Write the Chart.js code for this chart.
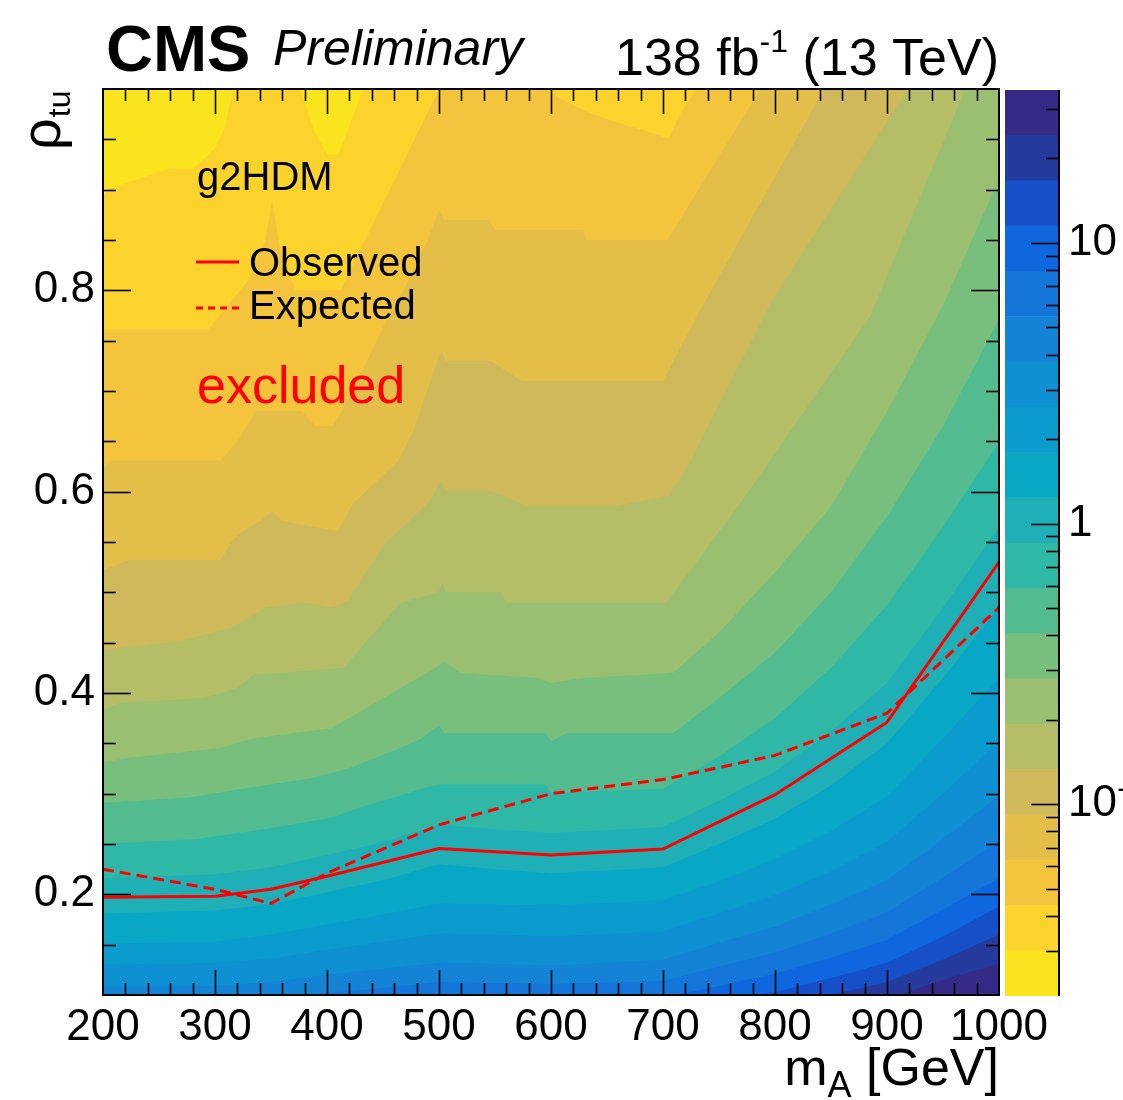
<!DOCTYPE html>
<html>
<head>
<meta charset="utf-8">
<script src="https://cdn.jsdelivr.net/npm/chart.js@4.4.0/dist/chart.umd.min.js"></script>
<style>
  body { margin: 0; background: #fff; }
  #wrap { position: relative; width: 1123px; height: 1100px; }
  canvas { position: absolute; left: 0; top: 0; }
</style>
</head>
<body>
<div id="wrap">
  <canvas id="plot" width="1123" height="1100"></canvas>
  <canvas id="zbar" width="1123" height="1100"></canvas>
</div>
<script>
// colour levels, lowest z (top left) to highest z (bottom right)
const levelColours = [
  '#f9e41e', '#fcd22c', '#f4c53c', '#e3bf4a', '#d0b95a', '#b5bd67', '#9abf70', '#78bf7e', '#52bb90', '#30b8a6',
  '#1eb0b6', '#09a7c6', '#0a9ccc', '#0f90d3', '#1483d6', '#1476d8', '#0f67df', '#1550c8', '#243a9c', '#352a87'
];
// z values at the edges of the 20 levels (colour bar)
const zEdges = [0.0207, 0.0300, 0.0435, 0.0632, 0.0916, 0.1328, 0.1926, 0.2793, 0.4052, 0.5875, 0.8521,
  1.236, 1.792, 2.598, 3.770, 5.466, 7.929, 11.50, 16.68, 24.18, 35.08];
const zTickValues = [0.1, 1, 10];

const xTickValues = [200, 300, 400, 500, 600, 700, 800, 900, 1000];
const yTickValues = [0.2, 0.4, 0.6, 0.8];

// level boundaries, [m_A, rho_tu]; edgeK separates level K-1 (above) from level K (below)
const edge1 = [[200,0.893],[205,0.901],[233,0.911],[260,0.921],[281,0.921],[300,0.941],[309,0.962],[316,1.0],[322,1.05],
  [368,1.05],[376,1.0],[388,0.96],[400,0.935],[410,0.935],[419,0.96],[432,1.0],[440,1.05],[1000,1.6]];
const edge2 = [[200,0.761],[294,0.761],[330,0.81],[345,0.85],[351,0.89],[358,0.84],[372,0.80],[412,0.80],[498,0.995],
  [505,1.02],[592,1.02],[602,0.995],[614,0.987],[635,0.976],[664,0.965],[695,0.955],[705,0.950],[715,0.975],[730,1.0],
  [740,1.03],[1000,1.6]];
const edge3 = [[200,0.621],[206,0.631],[305,0.631],[320,0.650],[331,0.670],[336,0.680],[377,0.680],[390,0.665],[405,0.665],
  [418,0.690],[436,0.730],[448,0.759],[470,0.804],[490,0.850],[500,0.880],[505,0.870],[545,0.870],[550,0.860],[629,0.860],
  [632,0.850],[704,0.850],[787,1.0],[1000,1.4]];
const edge4 = [[200,0.522],[223,0.532],[305,0.532],[315,0.551],[325,0.561],[341,0.571],[351,0.581],[359,0.571],[384,0.566],
  [410,0.561],[423,0.588],[464,0.631],[477,0.660],[489,0.700],[502,0.740],[506,0.730],[546,0.730],[574,0.710],[700,0.710],
  [730,0.774],[840,0.992],[1000,1.31]];
const edge5 = [[200,0.443],[270,0.452],[315,0.465],[345,0.485],[379,0.490],[404,0.485],[419,0.492],[435,0.520],[454,0.551],
  [474,0.571],[492,0.591],[502,0.611],[506,0.601],[546,0.601],[579,0.586],[659,0.586],[705,0.596],[720,0.621],[797,0.789],
  [914,0.992],[1000,1.17]];
const edge6 = [[200,0.383],[215,0.390],[290,0.395],[320,0.405],[334,0.418],[415,0.425],[465,0.489],[500,0.500],[503,0.510],
  [506,0.500],[555,0.500],[560,0.490],[703,0.490],[770,0.590],[885,0.774],[970,1.0],[1000,1.08]];
const edge7 = [[200,0.331],[224,0.336],[304,0.345],[334,0.355],[404,0.365],[500,0.427],[504,0.432],[519,0.420],[589,0.415],
  [600,0.410],[629,0.415],[709,0.420],[750,0.460],[800,0.520],[850,0.585],[900,0.680],[950,0.785],[1000,0.911]];
const edge8 = [[200,0.291],[275,0.296],[330,0.306],[385,0.315],[419,0.325],[444,0.336],[465,0.345],[485,0.355],[500,0.368],
  [505,0.360],[595,0.360],[600,0.352],[614,0.360],[709,0.360],[750,0.395],[800,0.440],[850,0.500],[900,0.575],[950,0.665],
  [1000,0.771]];
const edge9 = [[200,0.250],[284,0.255],[345,0.265],[404,0.276],[429,0.286],[459,0.296],[485,0.305],[500,0.309],[595,0.309],
  [600,0.301],[700,0.305],[750,0.337],[800,0.375],[850,0.425],[900,0.487],[950,0.565],[1000,0.649]];

// lower boundaries, read at these masses
const gridMass = [200, 300, 350, 400, 450, 500, 550, 600, 700, 750, 800, 850, 900, 950, 1000];
const rho10 = [0.216,0.220,0.227,0.239,0.252,0.269,0.265,0.261,0.267,0.293,0.322,0.362,0.410,0.485,0.565];
const rho11 = [0.181,0.184,0.190,0.202,0.214,0.230,0.225,0.221,0.227,0.250,0.275,0.308,0.350,0.415,0.485];
const rho12 = [0.151,0.153,0.160,0.170,0.180,0.191,0.190,0.189,0.194,0.213,0.235,0.263,0.297,0.355,0.415];
const rho13 = [0.130,0.132,0.136,0.145,0.153,0.161,0.160,0.158,0.163,0.181,0.199,0.223,0.252,0.300,0.352];
const rho14 = [0.108,0.109,0.113,0.120,0.126,0.132,0.131,0.129,0.135,0.152,0.168,0.190,0.214,0.255,0.298];
const rho15 = [0.092,0.093,0.096,0.102,0.107,0.113,0.112,0.111,0.114,0.128,0.142,0.161,0.182,0.217,0.253];
const rho16 = [0.078,0.079,0.081,0.087,0.091,0.097,0.096,0.095,0.097,0.109,0.121,0.137,0.155,0.185,0.216];
const rho17 = [0.066,0.067,0.069,0.074,0.078,0.083,0.082,0.080,0.083,0.093,0.103,0.117,0.132,0.158,0.188];
const rho18 = [0.056,0.057,0.059,0.063,0.066,0.070,0.069,0.068,0.071,0.079,0.088,0.100,0.113,0.135,0.160];
const rho19 = [0.048,0.049,0.050,0.054,0.056,0.060,0.059,0.058,0.060,0.067,0.075,0.085,0.096,0.115,0.131];

// limits
const massObs = [200, 300, 350, 400, 500, 600, 700, 750, 800, 850, 900, 1000];
const rhoObs = [0.197, 0.198, 0.205, 0.218, 0.2455, 0.239, 0.245, 0.272, 0.299, 0.335, 0.371, 0.530];
const massExp = [200, 300, 350, 400, 500, 600, 700, 800, 900, 1000];
const rhoExp = [0.225, 0.205, 0.191, 0.221, 0.269, 0.300, 0.314, 0.338, 0.380, 0.485];

const fontFam = '"Liberation Sans", Arial, Helvetica, sans-serif';

const lowerRho = [rho10, rho11, rho12, rho13, rho14, rho15, rho16, rho17, rho18, rho19];
const edges = [edge1, edge2, edge3, edge4, edge5, edge6, edge7, edge8, edge9]
  .concat(lowerRho.map(r => gridMass.map((m, i) => [m, r[i]])));

const fillSets = edges.map((pts, i) => ({
  data: pts.map(p => ({ x: p[0], y: p[1] })),
  backgroundColor: levelColours[i + 1],
  borderColor: 'rgba(0,0,0,0)',
  borderWidth: 0,
  pointRadius: 0,
  fill: 'start',
  order: 100 - i
}));

function seg(ctx, x1, y1, x2, y2) {
  ctx.beginPath();
  ctx.moveTo(x1, y1);
  ctx.lineTo(x2, y2);
  ctx.stroke();
}

const bgFill = {
  id: 'bgFill',
  beforeDatasetsDraw(chart) {
    const { ctx, chartArea: a } = chart;
    ctx.save();
    ctx.fillStyle = levelColours[0];
    ctx.fillRect(a.left, a.top, a.right - a.left, a.bottom - a.top);
    ctx.restore();
  }
};

const decor = {
  id: 'decor',
  afterDatasetsDraw(chart) {
    const { ctx, chartArea: a, scales: { x, y } } = chart;
    ctx.save();
    ctx.strokeStyle = '#000';
    ctx.lineWidth = 1.6;
    for (let m = 220; m < 1000; m += 20) {
      const px = Math.round(x.getPixelForValue(m)) + 0.5;
      const len = m % 100 === 0 ? 25 : 12;
      seg(ctx, px, a.bottom, px, a.bottom - len);
      seg(ctx, px, a.top, px, a.top + len);
    }
    for (let i = 3; i < 20; i++) {
      const py = Math.round(y.getPixelForValue(i * 0.05)) + 0.5;
      const len = i % 4 === 0 ? 28 : 13;
      seg(ctx, a.left, py, a.left + len, py);
      seg(ctx, a.right, py, a.right - len, py);
    }
    ctx.lineWidth = 2;
    ctx.strokeRect(a.left, a.top, a.right - a.left, a.bottom - a.top);

    ctx.fillStyle = '#000';
    ctx.textBaseline = 'alphabetic';
    // header
    ctx.font = `bold 65px ${fontFam}`;
    ctx.textAlign = 'left';
    ctx.fillText('CMS', 106, 71);
    ctx.font = `italic 50px ${fontFam}`;
    ctx.fillText('Preliminary', 273, 65);

    const big = `52px ${fontFam}`, sup = `32px ${fontFam}`;
    ctx.font = big;
    const w1 = ctx.measureText('138 fb').width;
    const w3 = ctx.measureText(' (13 TeV)').width;
    ctx.font = sup;
    const w2 = ctx.measureText('-1').width;
    let tx = 999 - (w1 + w2 + w3);
    ctx.font = big;
    ctx.fillText('138 fb', tx, 75);
    ctx.font = sup;
    ctx.fillText('-1', tx + w1, 52);
    ctx.font = big;
    ctx.fillText(' (13 TeV)', tx + w1 + w2, 75);

    // x title
    ctx.font = big;
    const wm = ctx.measureText('m').width;
    const wg = ctx.measureText(' [GeV]').width;
    ctx.font = `36px ${fontFam}`;
    const wa = ctx.measureText('A').width;
    tx = 999 - (wm + wa + wg);
    ctx.font = big;
    ctx.fillText('m', tx, 1085);
    ctx.font = `36px ${fontFam}`;
    ctx.fillText('A', tx + wm, 1097);
    ctx.font = big;
    ctx.fillText(' [GeV]', tx + wm + wa, 1085);

    // y title
    ctx.save();
    ctx.translate(60, 150);
    ctx.rotate(-Math.PI / 2);
    ctx.font = `56px ${fontFam}`;
    ctx.fillText('\u03C1', 0, 0);
    const wr = ctx.measureText('\u03C1').width;
    ctx.font = `32px ${fontFam}`;
    ctx.fillText('tu', wr + 1, 10);
    ctx.restore();

    // labels inside the frame
    ctx.font = `40px ${fontFam}`;
    ctx.fillText('g2HDM', 197, 190);
    ctx.fillText('Observed', 249, 276);
    ctx.fillText('Expected', 249, 319);
    ctx.strokeStyle = '#ff0000';
    ctx.lineWidth = 3;
    seg(ctx, 196, 262, 239, 262);
    ctx.setLineDash([7, 5]);
    seg(ctx, 196, 308, 239, 308);
    ctx.setLineDash([]);
    ctx.fillStyle = '#ff0000';
    ctx.font = `52px ${fontFam}`;
    ctx.fillText('excluded', 197, 403);
    ctx.restore();
  }
};

new Chart(document.getElementById('plot'), {
  type: 'line',
  data: {
    datasets: fillSets.concat([
      {
        data: massObs.map((m, i) => ({ x: m, y: rhoObs[i] })),
        borderColor: '#ff0000', borderWidth: 3, pointRadius: 0, fill: false, order: 0
      },
      {
        data: massExp.map((m, i) => ({ x: m, y: rhoExp[i] })),
        borderColor: '#ff0000', borderWidth: 3, borderDash: [11, 6], pointRadius: 0, fill: false, order: 1
      }
    ])
  },
  options: {
    responsive: false,
    animation: false,
    devicePixelRatio: 1,
    layout: { padding: { left: 0, top: 89, right: 124, bottom: 0 } },
    plugins: { legend: { display: false }, tooltip: { enabled: false } },
    scales: {
      x: {
        type: 'linear', min: 200, max: 1000,
        afterFit(s) { s.height = 105; },
        afterBuildTicks(s) { s.ticks = xTickValues.map(v => ({ value: v })); },
        grid: { display: false, drawTicks: false }, border: { display: false },
        ticks: {
          color: '#000', padding: 6, maxRotation: 0, autoSkip: false,
          font: { family: fontFam, size: 44 }, callback: v => String(v)
        }
      },
      y: {
        type: 'linear', min: 0.1, max: 1.0,
        afterFit(s) { s.width = 103; },
        afterBuildTicks(s) { s.ticks = yTickValues.map(v => ({ value: v })); },
        grid: { display: false, drawTicks: false }, border: { display: false },
        ticks: { color: '#000', padding: 8, font: { family: fontFam, size: 44 }, callback: v => v.toFixed(1) }
      }
    }
  },
  plugins: [bgFill, decor]
});

const zbarTicks = {
  id: 'zbarTicks',
  afterDatasetsDraw(chart) {
    const { ctx, chartArea: a, scales: { y } } = chart;
    ctx.save();
    ctx.strokeStyle = '#000';
    ctx.lineWidth = 1.6;
    for (let d = -2; d <= 1; d++) {
      for (let k = 1; k <= 9; k++) {
        const v = k * Math.pow(10, d);
        if (v < y.min || v > y.max) continue;
        const py = Math.round(y.getPixelForValue(v)) + 0.5;
        seg(ctx, a.right, py, a.right - (k === 1 ? 28 : 13), py);
      }
    }
    ctx.lineWidth = 2;
    seg(ctx, a.right, a.top, a.right, a.bottom);
    ctx.restore();
  }
};

new Chart(document.getElementById('zbar'), {
  type: 'bar',
  data: {
    labels: [''],
    datasets: levelColours.map((c, i) => ({
      data: [[zEdges[i], zEdges[i + 1]]],
      backgroundColor: c,
      borderWidth: 0,
      barPercentage: 1,
      categoryPercentage: 1,
      grouped: false
    }))
  },
  options: {
    responsive: false,
    animation: false,
    devicePixelRatio: 1,
    layout: { padding: { left: 1005, top: 90, right: 0, bottom: 104 } },
    plugins: { legend: { display: false }, tooltip: { enabled: false } },
    scales: {
      x: { display: false },
      y: {
        type: 'logarithmic', position: 'right', min: zEdges[0], max: zEdges[20],
        afterFit(s) { s.width = 64; },
        afterBuildTicks(s) { s.ticks = zTickValues.map(v => ({ value: v })); },
        grid: { display: false, drawTicks: false }, border: { display: false },
        ticks: {
          color: '#000', padding: 9, font: { family: fontFam, size: 44 },
          callback: v => (v === 10 ? '10' : v === 1 ? '1' : '10\u207B\u00B9')
        }
      }
    }
  },
  plugins: [zbarTicks]
});
</script>
</body>
</html>
